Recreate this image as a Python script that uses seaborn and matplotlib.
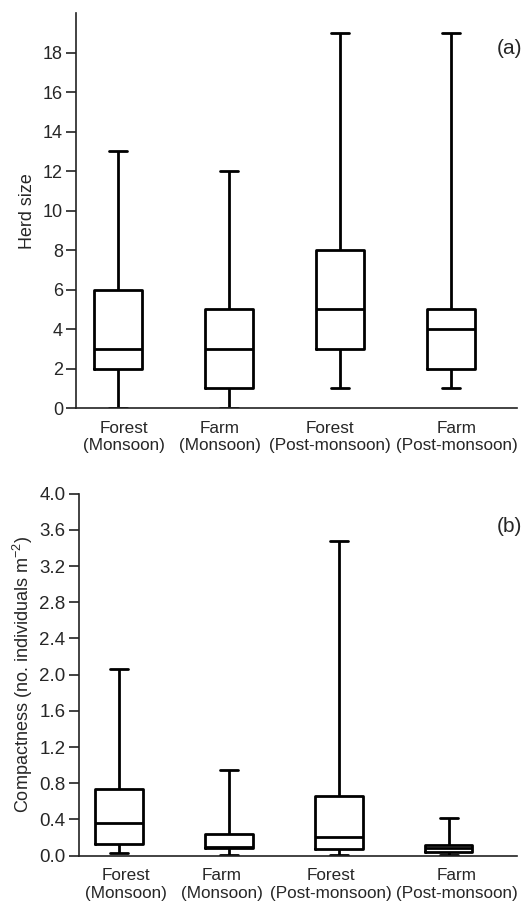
import pandas as pd
import matplotlib
matplotlib.use("Agg")
import matplotlib.pyplot as plt
import matplotlib.transforms as mtransforms
import seaborn as sns

# Group labels (x axis)
groups = ["Forest\n(Monsoon)", "Farm\n(Monsoon)", "Forest\n(Post-monsoon)", "Farm\n(Post-monsoon)"]

# Five-number summaries: min, q1, median, q3, max
herd_min = [0, 0, 1, 1]
herd_q1 = [2, 1, 3, 2]
herd_med = [3, 3, 5, 4]
herd_q3 = [6, 5, 8, 5]
herd_max = [13, 12, 19, 19]

comp_min = [0.03, 0.01, 0.01, 0.01]
comp_q1 = [0.13, 0.08, 0.07, 0.04]
comp_med = [0.36, 0.10, 0.21, 0.08]
comp_q3 = [0.74, 0.24, 0.66, 0.12]
comp_max = [2.06, 0.95, 3.48, 0.42]


def summary_frame(mins, q1s, meds, q3s, maxs):
    # five points per group -> numpy percentiles give back exactly q1/median/q3
    rows = []
    for g, a, b, c, d, e in zip(groups, mins, q1s, meds, q3s, maxs):
        for v in (a, b, c, d, e):
            rows.append({"Group": g, "Value": v})
    return pd.DataFrame(rows)


df_herd = summary_frame(herd_min, herd_q1, herd_med, herd_q3, herd_max)
df_comp = summary_frame(comp_min, comp_q1, comp_med, comp_q3, comp_max)

sns.set_theme(style="ticks")
plt.rcParams["font.family"] = ["Liberation Sans", "DejaVu Sans"]
plt.rcParams["mathtext.fontset"] = "custom"
plt.rcParams["mathtext.rm"] = "Liberation Sans"
plt.rcParams["mathtext.it"] = "Liberation Sans:italic"

fig = plt.figure(figsize=(5.25, 9.05), dpi=100)
ax1 = fig.add_axes([0.145, 0.549, 0.84, 0.4365])
ax2 = fig.add_axes([0.150, 0.0545, 0.835, 0.4000])

box_kws = dict(
    x="Group", y="Value", order=groups, whis=(0, 100), fill=False,
    color="black", linecolor="black", linewidth=2.0, width=0.43,
    showfliers=False, capwidths=0.165,
)

sns.boxplot(data=df_herd, ax=ax1, **box_kws)
sns.boxplot(data=df_comp, ax=ax2, **box_kws)

ax1.set_ylim(0, 20)
ax1.set_yticks(range(0, 20, 2))
ax1.set_xlim(-0.379, 3.598)
ax1.set_ylabel("Herd size", fontsize=12.9, labelpad=5)
ax1.tick_params(axis="y", labelsize=13)

ax2.set_ylim(0, 4.0)
ax2.set_yticks([i * 0.4 for i in range(11)])
ax2.set_yticklabels([f"{i * 0.4:.1f}" for i in range(11)])
ax2.set_xlim(-0.367, 3.622)
ax2.set_ylabel("Compactness (no. individuals m$^{-2}$)", fontsize=13, labelpad=3)
ax2.tick_params(axis="y", labelsize=13.5)

# small horizontal nudges (px) so the two-line labels sit like the original
label_shift = {ax1: [6, -9, -10, 6], ax2: [7, -7, -8, 8]}

for ax, tag in ((ax1, "(a)"), (ax2, "(b)")):
    ax.set_xlabel("")
    sns.despine(ax=ax)
    for s in ("left", "bottom"):
        ax.spines[s].set_linewidth(1.2)
        ax.spines[s].set_color("#222222")
    ax.tick_params(axis="y", length=7.5, width=1.2, color="#222222", pad=2)
    ax.tick_params(axis="x", length=0, labelsize=12.3, pad=9)
    for lab, dx in zip(ax.get_xticklabels(), label_shift[ax]):
        lab.set_transform(lab.get_transform() + mtransforms.ScaledTranslation(dx / 100, 0, fig.dpi_scale_trans))
    ax.text(1.012, 0.91, tag, transform=ax.transAxes, ha="right", va="center", fontsize=15)

fig.savefig("out.png", dpi=100)
